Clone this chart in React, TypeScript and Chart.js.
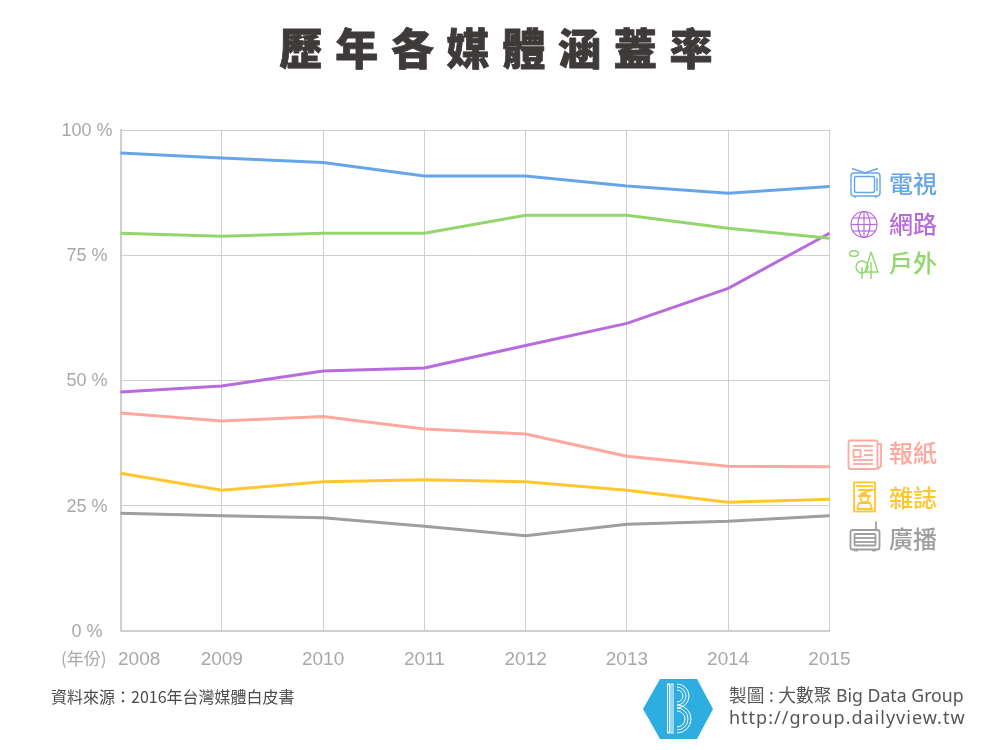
import React, { useEffect, useRef } from "react";
import { Chart, registerables } from "chart.js";

Chart.register(...registerables);

const years = ["2008", "2009", "2010", "2011", "2012", "2013", "2014", "2015"];
const yTicks = [0, 25, 50, 75, 100];
const tv = [95.4, 94.4, 93.5, 90.8, 90.8, 88.8, 87.4, 88.7];
const outdoor = [79.4, 78.8, 79.4, 79.4, 83, 83, 80.4, 78.4];
const internet = [47.7, 48.9, 51.9, 52.5, 57, 61.4, 68.4, 79.4];
const newspaper = [43.5, 41.9, 42.8, 40.3, 39.3, 34.9, 32.9, 32.8];
const magazine = [31.5, 28.1, 29.8, 30.2, 29.8, 28.1, 25.7, 26.3];
const radio = [23.5, 23, 22.6, 20.9, 19, 21.3, 21.9, 23];

const C = { tv: "#66a6e8", net: "#b76bdc", out: "#93d66b", news: "#ffa89e", mag: "#ffc62e", radio: "#9e9e9e" };
const CJK = '"Noto Sans CJK TC", sans-serif';
const LATIN = '"Liberation Sans", "Noto Sans CJK TC", sans-serif';
const GRID = "#cfcfcf";
const TICK = "#a8a8a8";

type Ctx = CanvasRenderingContext2D;

function line(c: Ctx, pts: number[][]) {
  c.beginPath();
  pts.forEach((p, i) => (i ? c.lineTo(p[0], p[1]) : c.moveTo(p[0], p[1])));
  c.stroke();
}
function rr(c: Ctx, x: number, y: number, w: number, h: number, r: number) {
  c.beginPath();
  c.roundRect(x, y, w, h, r);
  c.stroke();
}
function circ(c: Ctx, x: number, y: number, r: number) {
  c.beginPath();
  c.arc(x, y, r, 0, Math.PI * 2);
  c.stroke();
}

function iconTv(c: Ctx) {
  c.strokeStyle = C.tv;
  c.lineWidth = 1.4;
  rr(c, 851, 173, 29, 23, 3);
  rr(c, 854.5, 176.5, 20, 16, 2);
  line(c, [[852, 168.5], [865, 173], [878, 168.5]]);
  line(c, [[877, 178], [877, 191]]);
  line(c, [[855, 196], [855, 198]]);
  line(c, [[876, 196], [876, 198]]);
}
function iconGlobe(c: Ctx) {
  c.strokeStyle = C.net;
  c.lineWidth = 1.2;
  circ(c, 864, 224.5, 13);
  c.beginPath();
  c.ellipse(864, 224.5, 6, 13, 0, 0, Math.PI * 2);
  c.stroke();
  line(c, [[864, 211.5], [864, 237.5]]);
  line(c, [[851, 224.5], [877, 224.5]]);
  line(c, [[853, 218], [875, 218]]);
  line(c, [[853, 231], [875, 231]]);
}
function iconTrees(c: Ctx) {
  c.strokeStyle = C.out;
  c.lineWidth = 1.4;
  c.beginPath();
  c.ellipse(854, 253.5, 4.5, 2.8, 0, 0, Math.PI * 2);
  c.stroke();
  circ(c, 862, 267, 6);
  line(c, [[862, 267], [862, 279]]);
  line(c, [[871, 252], [865, 272], [878, 272], [871, 252]]);
  line(c, [[871, 262], [871, 279]]);
}
function iconNews(c: Ctx) {
  c.strokeStyle = C.news;
  c.lineWidth = 1.8;
  rr(c, 848.5, 440.5, 29, 28.5, 2);
  line(c, [[877.5, 444], [881, 444], [881, 466], [877.5, 469]]);
  c.strokeRect(853.5, 450, 7, 7);
  line(c, [[853, 446], [873, 446]]);
  line(c, [[864, 450.5], [873, 450.5]]);
  line(c, [[864, 455], [873, 455]]);
  line(c, [[853, 460], [873, 460]]);
  line(c, [[853, 464], [873, 464]]);
}
function iconMag(c: Ctx) {
  c.strokeStyle = C.mag;
  c.lineWidth = 1.8;
  c.strokeRect(854, 482.5, 21, 29);
  line(c, [[856, 486], [873, 486]]);
  line(c, [[858, 490], [872, 490], [860, 494]]);
  circ(c, 864.5, 498, 4);
  line(c, [[857, 509], [859, 503], [870, 503], [872, 509], [857, 509]]);
  line(c, [[858, 496], [871, 496]]);
}
function iconRadio(c: Ctx) {
  c.strokeStyle = C.radio;
  c.lineWidth = 1.8;
  rr(c, 850.5, 530, 29, 19.5, 2);
  rr(c, 854.5, 534, 21, 11.5, 1);
  line(c, [[876, 521.5], [876, 530]]);
  line(c, [[855, 538], [875, 538]]);
  line(c, [[855, 542], [875, 542]]);
  line(c, [[854, 550.5], [858, 550.5]]);
  line(c, [[872, 550.5], [876, 550.5]]);
}
function logo(c: Ctx) {
  c.fillStyle = "#2eaee0";
  c.beginPath();
  [[643, 709], [660, 679], [697, 679], [713, 709], [697, 739], [660, 739]].forEach((p, i) =>
    i ? c.lineTo(p[0], p[1]) : c.moveTo(p[0], p[1])
  );
  c.closePath();
  c.fill();
  c.strokeStyle = "#ffffff";
  c.lineWidth = 1;
  c.strokeRect(667.5, 684, 2, 49);
  c.strokeRect(671, 684, 2, 49);
  [4, 7, 10].forEach((d) => {
    c.beginPath();
    c.arc(677, 696, d + 2, -Math.PI / 2, Math.PI / 2);
    c.stroke();
    c.beginPath();
    c.arc(677, 719, d + 4, -Math.PI / 2, Math.PI / 2);
    c.stroke();
  });
}

function text(c: Ctx, s: string, x: number, y: number, font: string, color: string, spacing = "0px", boldStroke = 0) {
  c.save();
  c.font = font;
  c.fillStyle = color;
  c.textAlign = "left";
  c.textBaseline = "middle";
  (c as any).letterSpacing = spacing;
  if (boldStroke) {
    c.strokeStyle = color;
    c.lineWidth = boldStroke;
    c.lineJoin = "round";
    c.strokeText(s, x, y);
  }
  c.fillText(s, x, y);
  c.restore();
}

const decor = {
  id: "decor",
  afterDraw(chart: any) {
    const c: Ctx = chart.ctx;
    c.save();
    text(c, "歷年各媒體涵蓋率", 279.5, 48.5, `900 43px ${CJK}`, "#3f3a3a", "12.7px", 0.8);
    text(c, "(年份)", 61, 659, `17px ${CJK}`, TICK);
    text(c, years[0], 118, 660, `19px ${LATIN}`, TICK);
    const labels: [string, number, string][] = [
      ["電視", 184, C.tv], ["網路", 224, C.net], ["戶外", 263, C.out],
      ["報紙", 453, C.news], ["雜誌", 498, C.mag], ["廣播", 539, C.radio],
    ];
    labels.forEach(([s, y, col]) => text(c, s, 889, y, `500 24px ${CJK}`, col));
    iconTv(c); iconGlobe(c); iconTrees(c); iconNews(c); iconMag(c); iconRadio(c);
    text(c, "資料來源：2016年台灣媒體白皮書", 51, 697, `16px ${CJK}`, "#4a4a4a");
    text(c, "製圖 : 大數聚 Big Data Group", 729, 697, `17.7px ${'"Noto Sans", "Noto Sans CJK TC", sans-serif'}`, "#555555");
    text(c, "http://group.dailyview.tw", 729, 719, `18px ${'"Noto Sans", sans-serif'}`, "#555555", "1px");
    logo(c);
    c.restore();
  },
};

export default function App() {
  const ref = useRef<HTMLCanvasElement>(null);
  useEffect(() => {
    const mk = (label: string, data: number[], color: string) => ({
      label, data, borderColor: color, backgroundColor: color, borderWidth: 3, pointRadius: 0, tension: 0, clip: false as any,
    });
    const chart = new Chart(ref.current!, {
      type: "line",
      data: {
        labels: years,
        datasets: [
          mk("電視", tv, C.tv),
          mk("戶外", outdoor, C.out),
          mk("網路", internet, C.net),
          mk("報紙", newspaper, C.news),
          mk("雜誌", magazine, C.mag),
          mk("廣播", radio, C.radio),
        ],
      },
      options: {
        animation: false,
        responsive: false,
        layout: { padding: { top: 130, right: 170.5, left: 0, bottom: 0 } },
        plugins: { legend: { display: false }, title: { display: false }, tooltip: { enabled: false } },
        scales: {
          x: {
            type: "category",
            offset: false,
            afterFit: (s: any) => { s.height = 119; },
            grid: { color: GRID, lineWidth: 1, drawTicks: false },
            border: { color: GRID, width: 2 },
            ticks: {
              color: TICK, font: { size: 19, family: LATIN }, padding: 17, maxRotation: 0, autoSkip: false,
              callback: (_v: any, i: number) => (i === 0 ? "" : years[i]),
            },
          },
          y: {
            min: 0,
            max: 100,
            afterFit: (s: any) => { s.width = 120.5; },
            afterBuildTicks: (s: any) => { s.ticks = yTicks.map((value) => ({ value })); },
            grid: { color: GRID, lineWidth: 1, drawTicks: false },
            border: { color: GRID, width: 2 },
            ticks: {
              color: TICK, font: { size: 18, family: LATIN }, padding: 8, crossAlign: "center", labelOffset: 1,
              callback: (v: any) => `${v} %`,
            },
          },
        },
      },
      plugins: [decor],
    } as any);
    return () => chart.destroy();
  }, []);
  return (
    <canvas
      ref={ref}
      width={1000}
      height={750}
      style={{ position: "absolute", left: 0, top: 0, width: 1000, height: 750, background: "#fff" }}
    />
  );
}
